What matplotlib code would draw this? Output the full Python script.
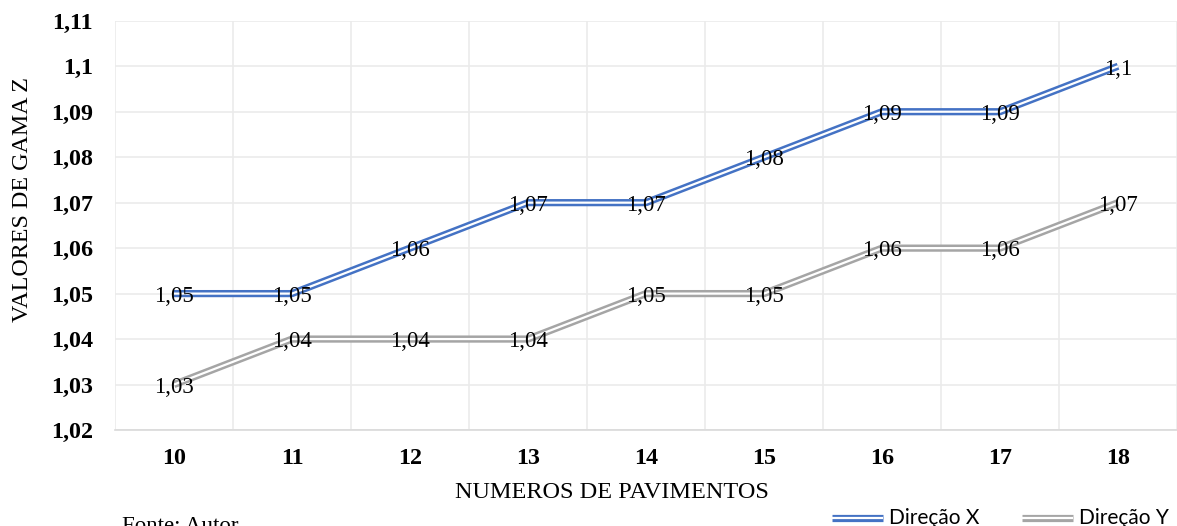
import matplotlib.pyplot as plt
from matplotlib.lines import Line2D
from matplotlib.ticker import FixedLocator

pavimentos = [10, 11, 12, 13, 14, 15, 16, 17, 18]
direcao_x = [1.05, 1.05, 1.06, 1.07, 1.07, 1.08, 1.09, 1.09, 1.10]
direcao_y = [1.03, 1.04, 1.04, 1.04, 1.05, 1.05, 1.06, 1.06, 1.07]
y_ticks = [1.02, 1.03, 1.04, 1.05, 1.06, 1.07, 1.08, 1.09, 1.10, 1.11]
series_names = ['Direção X', 'Direção Y']

BLUE = '#4472C4'
GREY = '#A5A5A5'
GRID = '#EBEBEB'
SERIF = ['Liberation Serif', 'DejaVu Serif']
LW_OUT, LW_IN = 5.2, 1.6


def br(v):
    s = f"{v:.2f}".rstrip('0').rstrip('.')
    return s.replace('.', ',')


fig = plt.figure(figsize=(11.77, 5.26), dpi=100)
ax = fig.add_axes([0.0977, 0.1825, 0.9023, 0.778])

# double line: thick coloured stroke with a thin white core
for vals, col in [(direcao_x, BLUE), (direcao_y, GREY)]:
    ax.plot(pavimentos, vals, color=col, lw=LW_OUT, solid_capstyle='butt', zorder=3)
    ax.plot(pavimentos, vals, color='white', lw=LW_IN, solid_capstyle='butt', zorder=4)
    for p, v in zip(pavimentos, vals):
        ax.annotate(br(v), (p, v), xytext=(0, -2), textcoords='offset points',
                    ha='center', va='center', fontsize=16.5,
                    family=SERIF, color='black', zorder=5)

ax.set_xlim(9.5, 18.5)
ax.set_ylim(1.02, 1.11)
ax.set_yticks(y_ticks)
ax.set_yticklabels([br(v) for v in y_ticks], fontsize=17.3, fontweight='bold', family=SERIF)
ax.set_xticks(pavimentos)
ax.set_xticklabels([str(p) for p in pavimentos], fontsize=17.3, fontweight='bold', family=SERIF)
ax.xaxis.set_minor_locator(FixedLocator([9.5 + i for i in range(10)]))

ax.tick_params(axis='both', which='both', length=0)
ax.tick_params(axis='y', pad=16)
ax.tick_params(axis='x', pad=13)
ax.grid(True, axis='y', which='major', color=GRID, lw=1.2)
ax.grid(True, axis='x', which='minor', color=GRID, lw=1.2)
for s in ['top', 'right', 'left']:
    ax.spines[s].set_visible(False)
ax.spines['bottom'].set_color('#D9D9D9')
ax.spines['bottom'].set_linewidth(1.2)

fig.text(23 / 1177, 1 - 200 / 526, 'VALORES DE GAMA Z', rotation=90, ha='center', va='center',
         fontsize=17.3, family=SERIF)
fig.text(612 / 1177, 1 - 492 / 526, 'NUMEROS DE PAVIMENTOS', ha='center', va='center',
         fontsize=17.5, family=SERIF)
fig.text(0.104, 1 - 516 / 526, 'Fonte: Autor', ha='left', va='top',
         fontsize=16.5, family=SERIF)

# legend at the bottom right, double-line samples drawn in figure coords
W, H = 1177, 526
leg_y = 1 - 517.5 / H
for name, col, x0, x1, tx in [(series_names[0], BLUE, 832, 883, 889),
                              (series_names[1], GREY, 1022, 1073, 1079)]:
    for c, lw in [(col, LW_OUT), ('white', LW_IN)]:
        fig.add_artist(Line2D([x0 / W, x1 / W], [leg_y, leg_y], color=c, lw=lw,
                              solid_capstyle='butt', transform=fig.transFigure))
    fig.text(tx / W, leg_y, name, ha='left', va='center', fontsize=15,
             family=['Lato', 'DejaVu Sans'])

fig.savefig('out.png', dpi=100)
